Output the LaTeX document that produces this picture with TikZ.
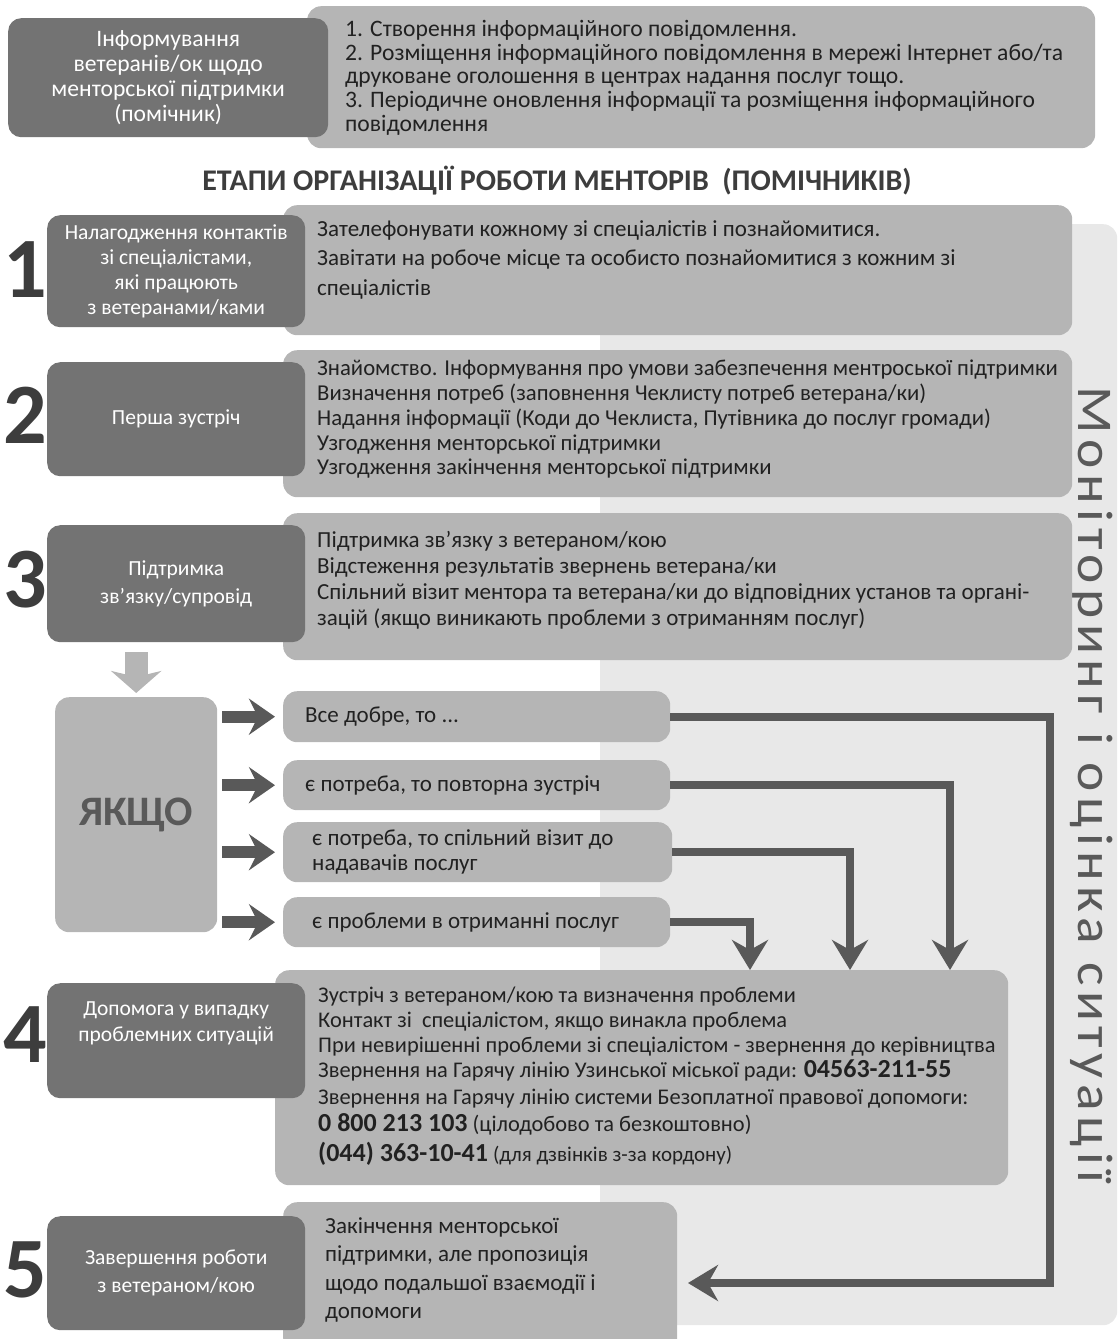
\documentclass[tikz,border=0pt]{standalone}
\usepackage{fontspec}
\setmainfont{Carlito}
\newfontfamily\monitorFont{Carlito}[LetterSpace=10]
\usetikzlibrary{arrows.meta,positioning}

\definecolor{darkFill}{gray}{0.45}
\definecolor{lightFill}{gray}{0.71}
\definecolor{panelFill}{gray}{0.91}
\definecolor{inkText}{gray}{0.13}
\definecolor{numInk}{gray}{0.24}
\definecolor{lineInk}{gray}{0.35}

\tikzset{
  darkBox/.style={fill=darkFill, rounded corners=13pt, anchor=north west, inner sep=0pt,
    text=white, align=center, font=\fontsize{21.5}{25}\selectfont},
  lightBox/.style={fill=lightFill, rounded corners=14pt, anchor=north west, inner sep=0pt},
  bodyText/.style={anchor=north west, align=left, inner sep=0pt, text=inkText},
  stepNum/.style={font=\bfseries\fontsize{86}{86}\selectfont, text=numInk, inner sep=0pt},
  flowLine/.style={draw=lineInk, line width=8pt, -{Stealth[length=30pt,width=36pt,inset=10pt]}},
  sideArrow/.style={draw=lineInk, line width=12pt, -{Stealth[length=26pt,width=36pt,inset=9pt]}},
  downArrow/.style={draw=lightFill, line width=23pt, -{Stealth[length=22pt,width=50pt,inset=6pt]}}
}

\begin{document}
\begin{tikzpicture}[x=1pt,y=-1pt]
  \newcommand{\bigNum}{\bfseries\fontsize{26}{25}\selectfont}
  \useasboundingbox (0,0) rectangle (1117,1339);

  % informing block
  \node[lightBox, minimum width=788, minimum height=142] (info) at (307,6) {};
  \node[darkBox, minimum width=320, minimum height=119, font=\fontsize{23.6}{24.7}\selectfont] (infoHead) at (8,18)
    {Інформування\\ветеранів/ок щодо\\менторської підтримки\\(помічник)};
  \node[bodyText, font=\fontsize{23.6}{23.75}\selectfont] (infoText) at (345,20)
    {1. Створення інформаційного повідомлення.\\
     2. Розміщення інформаційного повідомлення в мережі Інтернет або/та\\
     друковане оголошення в центрах надання послуг тощо.\\
     3. Періодичне оновлення інформації та розміщення інформаційного\\
     повідомлення};

  \node[font=\bfseries\fontsize{30}{30}\selectfont, text=numInk] (title) at (557,181)
    {ЕТАПИ ОРГАНІЗАЦІЇ РОБОТИ МЕНТОРІВ\ \ (ПОМІЧНИКІВ)};

  % monitoring panel
  \node[fill=panelFill, rounded corners=14pt, anchor=north west, inner sep=0pt,
    minimum width=517, minimum height=1101] (panel) at (600,224) {};
  \node[rotate=-90, xscale=1.11, anchor=base, inner sep=0pt, font=\monitorFont\fontsize{50}{50}\selectfont,
    text=lineInk] (monitor) at (1078,785) {Моніторинг і оцінка ситуації};

  % step 1
  \node[lightBox, minimum width=789, minimum height=130] (l1) at (283,205) {};
  \node[darkBox, minimum width=258, minimum height=112] (d1) at (47,215)
    {Налагодження контактів\\зі спеціалістами,\\які працюють\\з ветеранами/ками};
  \node[stepNum] (n1) at (25,270) {1};
  \node[bodyText, font=\fontsize{23}{29.5}\selectfont] (t1) at (317,220)
    {Зателефонувати кожному зі спеціалістів і познайомитися.\\
     Завітати на робоче місце та особисто познайомитися з кожним зі\\
     спеціалістів};

  % step 2
  \node[lightBox, minimum width=789, minimum height=147] (l2) at (283,350) {};
  \node[darkBox, minimum width=258, minimum height=114] (d2) at (47,362) {Перша зустріч};
  \node[stepNum] (n2) at (25,415) {2};
  \node[bodyText, font=\fontsize{22.7}{24.75}\selectfont] (t2) at (317,360)
    {Знайомство. Інформування про умови забезпечення ментроської підтримки\\
     Визначення потреб (заповнення Чеклисту потреб ветерана/ки)\\
     Надання інформації (Коди до Чеклиста, Путівника до послуг громади)\\
     Узгодження менторської підтримки\\
     Узгодження закінчення менторської підтримки};

  % step 3
  \node[lightBox, minimum width=789, minimum height=147] (l3) at (283,513) {};
  \node[darkBox, minimum width=258, minimum height=117, font=\fontsize{21.5}{28}\selectfont] (d3) at (47,525)
    {Підтримка\\зв’язку/супровід};
  \node[stepNum] (n3) at (25,580) {3};
  \node[bodyText, font=\fontsize{23}{26}\selectfont] (t3) at (317,531)
    {Підтримка зв’язку з ветераном/кою\\
     Відстеження результатів звернень ветерана/ки\\
     Спільний візит ментора та ветерана/ки до відповідних установ та органі-\\
     зацій (якщо виникають проблеми з отриманням послуг)};

  % if block
  \node[lightBox, minimum width=162, minimum height=235, text=lineInk,
    font=\bfseries\fontsize{42}{42}\selectfont] (yak) at (55,697) {ЯКЩО};
  \draw[downArrow, shorten >=4pt] ([yshift=-10pt]d3.south -| yak.north) -- (yak.north);

  \node[lightBox, minimum width=387, minimum height=51] (opt1) at (283,691) {};
  \node[lightBox, minimum width=387, minimum height=50] (opt2) at (283,760) {};
  \node[lightBox, minimum width=389, minimum height=60] (opt3) at (283,822) {};
  \node[lightBox, minimum width=387, minimum height=50] (opt4) at (283,897) {};
  \node[bodyText, anchor=west, font=\fontsize{23}{25}\selectfont] (o1) at ([xshift=22pt]opt1.west) {Все добре, то ...};
  \node[bodyText, anchor=west, font=\fontsize{23}{25}\selectfont] (o2) at ([xshift=22pt]opt2.west) {є потреба, то повторна зустріч};
  \node[bodyText, anchor=west, font=\fontsize{23}{25}\selectfont] (o3) at ([xshift=29pt]opt3.west)
    {є потреба, то спільний візит до\\надавачів послуг};
  \node[bodyText, anchor=west, font=\fontsize{23}{25}\selectfont] (o4) at ([xshift=29pt]opt4.west) {є проблеми в отриманні послуг};

  \draw[sideArrow, shorten <=5pt, shorten >=8pt] (yak.east |- opt1.west) -- (opt1.west);
  \draw[sideArrow, shorten <=5pt, shorten >=8pt] (yak.east |- opt2.west) -- (opt2.west);
  \draw[sideArrow, shorten <=5pt, shorten >=8pt] (yak.east |- opt3.west) -- (opt3.west);
  \draw[sideArrow, shorten <=5pt, shorten >=8pt] (yak.east |- opt4.west) -- (opt4.west);

  % step 4
  \node[lightBox, minimum width=733, minimum height=215] (l4) at (275,970) {};
  \node[darkBox, minimum width=258, minimum height=115] (d4) at (47,983) {};
  \node[anchor=north, inner sep=0pt, text=white, align=center, font=\fontsize{21.5}{26}\selectfont] (d4t)
    at ([yshift=-18pt]d4.north) {Допомога у випадку\\проблемних ситуацій};
  \node[stepNum] (n4) at (25,1035) {4};
  \node[bodyText, font=\fontsize{22.4}{25}\selectfont] (t4) at (318,987)
    {Зустріч з ветераном/кою та визначення проблеми\\
     Контакт зі\ \ спеціалістом, якщо винакла проблема\\
     При невирішенні проблеми зі спеціалістом - звернення до керівництва\\
     Звернення на Гарячу лінію Узинської міської ради: {\bigNum 04563-211-55}\\[2pt]
     Звернення на Гарячу лінію системи Безоплатної правової допомоги:\\[2pt]
     {\bigNum 0 800 213 103} (цілодобово та безкоштовно)\\[5pt]
     {\bigNum (044) 363-10-41} {\fontsize{21}{22}\selectfont (для дзвінків з-за кордону)}};

  % step 5
  \node[lightBox, minimum width=394, minimum height=150] (l5) at (283,1202) {};
  \node[darkBox, minimum width=258, minimum height=114, font=\fontsize{21.5}{28}\selectfont] (d5) at (47,1216)
    {Завершення роботи\\з ветераном/кою};
  \node[stepNum] (n5) at (25,1270) {5};
  \node[bodyText, font=\fontsize{23}{28.5}\selectfont] (t5) at (325,1217)
    {Закінчення менторської\\
     підтримки, але пропозиція\\
     щодо подальшої взаємодії і\\
     допомоги};

  % flow to steps 4 and 5
  \coordinate (loopX) at (1050,0);
  \coordinate (in5) at (688,1283);
  \draw[flowLine] (opt1.east) -- (opt1.east -| loopX) |- (in5);
  \draw[flowLine] (opt2.east) -| ([xshift=675pt]l4.north west);
  \draw[flowLine] (opt3.east) -| ([xshift=575pt]l4.north west);
  \draw[flowLine] (opt4.east) -| ([xshift=475pt]l4.north west);
\end{tikzpicture}
\end{document}
